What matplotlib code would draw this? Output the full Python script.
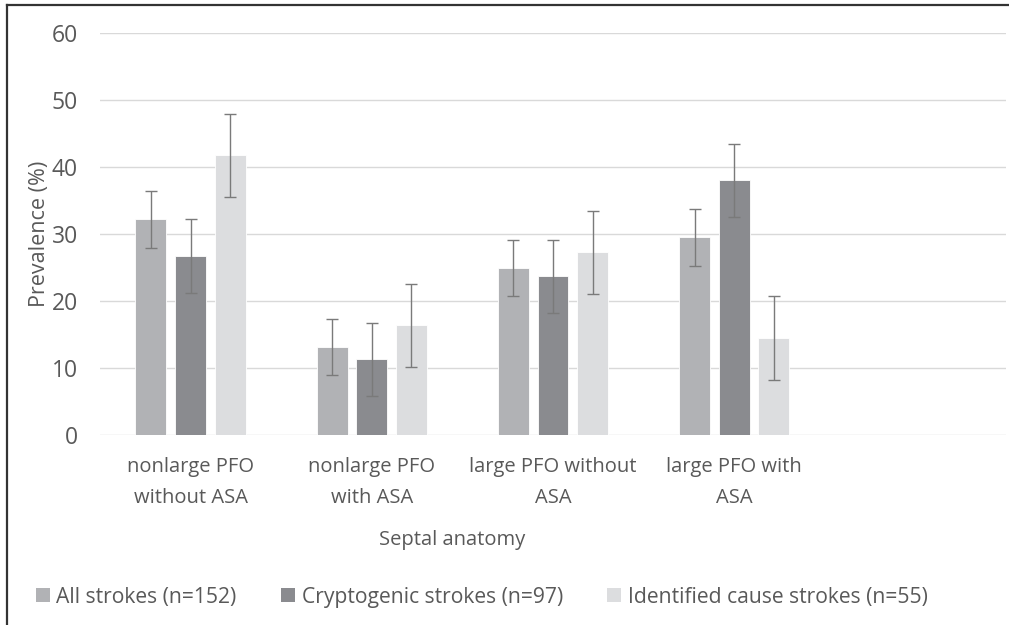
import matplotlib
matplotlib.use("Agg")
import matplotlib.pyplot as plt
from matplotlib.lines import Line2D
from matplotlib.patches import Patch
import numpy as np

plt.rcParams['font.family'] = ['Open Sans', 'DejaVu Sans']

# data
categories = ["nonlarge PFO\nwithout ASA", "nonlarge PFO\nwith ASA",
              "large PFO without\nASA", "large PFO with\nASA", ""]
series = ["All strokes (n=152)", "Cryptogenic strokes (n=97)",
          "Identified cause strokes (n=55)"]
all_vals = [32.2, 13.2, 25.0, 29.6]
all_lo = [27.9, 9.0, 20.7, 25.3]
all_hi = [36.4, 17.4, 29.1, 33.8]
crypto_vals = [26.8, 11.3, 23.7, 38.1]
crypto_lo = [21.2, 5.8, 18.2, 32.5]
crypto_hi = [32.3, 16.8, 29.1, 43.5]
ident_vals = [41.8, 16.4, 27.3, 14.5]
ident_lo = [35.5, 10.1, 21.0, 8.2]
ident_hi = [48.0, 22.6, 33.5, 20.7]
yticks = [0, 10, 20, 30, 40, 50, 60]

colors = ["#b1b2b5", "#8a8b8f", "#dcdddf"]
text_col = "#595959"

W, H = 1009, 625
fig = plt.figure(figsize=(W / 100, H / 100), dpi=100)
ax = fig.add_axes([100 / W, 1 - 435 / H, 906 / W, (435 - 33.3) / H])

x = np.arange(len(all_vals))
bw = 0.171
off = 0.219
groups = [(all_vals, all_lo, all_hi), (crypto_vals, crypto_lo, crypto_hi),
          (ident_vals, ident_lo, ident_hi)]
for i, (v, lo, hi) in enumerate(groups):
    v = np.array(v)
    err = [v - np.array(lo), np.array(hi) - v]
    ax.bar(x + (i - 1) * off, v, bw, color=colors[i], edgecolor="white",
           linewidth=0.6, zorder=2)
    ax.errorbar(x + (i - 1) * off, v, yerr=err, fmt="none", ecolor="#7a7a7a",
                elinewidth=1.0, capsize=4.5, capthick=1.0, zorder=3)

ax.set_xlim(-0.5, len(categories) - 0.5)
ax.set_ylim(0, 60)
ax.set_yticks(yticks)
ax.set_xticks(range(len(categories)))
ax.set_xticklabels(categories, linespacing=1.7)
ax.yaxis.grid(True, color="#d9d9d9", linewidth=1.0, zorder=0)
ax.set_axisbelow(True)
for s in ax.spines.values():
    s.set_visible(False)
ax.tick_params(axis="both", length=0, colors=text_col, labelsize=14.5)
ax.tick_params(axis="y", labelsize=16.5, pad=16)
ax.tick_params(axis="x", pad=16)

ax.set_ylabel("Prevalence (%)", fontsize=15.5, color=text_col)
ax.yaxis.set_label_coords(-(100 - 50) / 906, 0.5)

fig.text(452 / W, 1 - 540 / H, "Septal anatomy", ha="center", va="center",
         fontsize=14.5, color=text_col)

handles = [Patch(facecolor=c, edgecolor="none") for c in colors]
fig.legend(handles, series, loc="center left", bbox_to_anchor=(36 / W, 1 - 597 / H),
           ncol=3, frameon=False, fontsize=15.2, labelcolor=text_col,
           handlelength=0.67, handleheight=0.6, handletextpad=0.3,
           columnspacing=2.1, borderpad=0, borderaxespad=0)

# outer border (left and top visible)
fig.add_artist(Line2D([7 / W, 7 / W], [0.002, 1 - 5 / H], transform=fig.transFigure,
                      color="#333333", linewidth=1.6))
fig.add_artist(Line2D([7 / W, 1.0], [1 - 5 / H, 1 - 5 / H], transform=fig.transFigure,
                      color="#333333", linewidth=1.6))

fig.savefig("out.png", dpi=100)
